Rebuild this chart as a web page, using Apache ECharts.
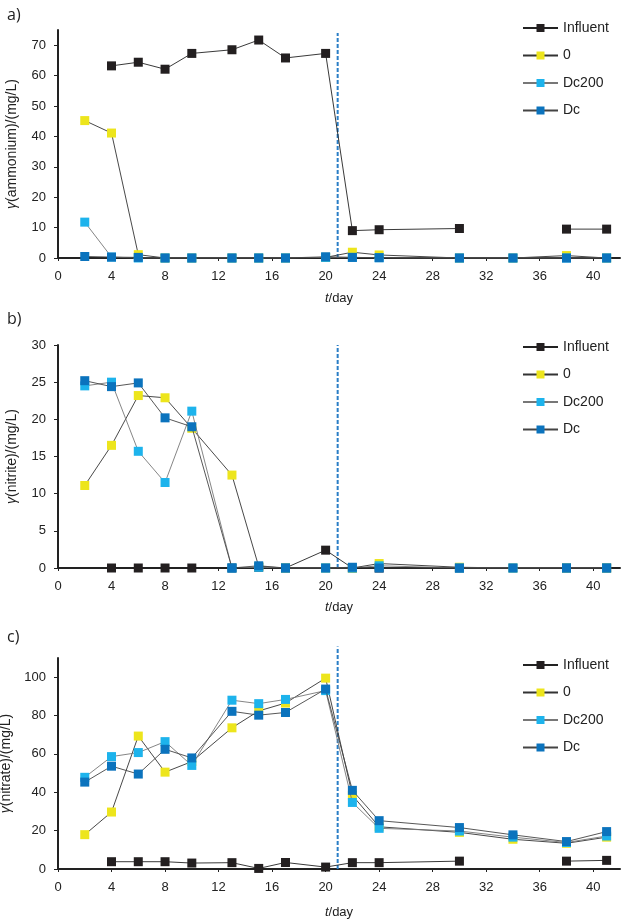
<!DOCTYPE html>
<html>
<head>
<meta charset="utf-8">
<script src="https://cdn.jsdelivr.net/npm/echarts@6/dist/echarts.min.js"></script>
<style>html,body{margin:0;padding:0;background:#fff}#c{width:624px;height:922px}</style>
</head>
<body>
<div id="c"></div>
<script>
var days = [2,4,6,8,10,13,15,17,20,22,24,30,34,38,41];
var seriesNames = ['Influent','0','Dc200','Dc'];
var switchDay = 20.9;

var influentA = [null,63.2,64.4,62.1,67.3,68.5,71.7,65.8,67.3,9.0,9.3,9.7,null,9.5,9.5];
var zeroA     = [45.2,41.1,1.1,0,0,0,0,0,0.2,1.9,1.0,0,0,0.8,0];
var dc200A    = [11.8,0.3,0,0,0,0,0,0,0.2,0.2,0.1,0,0,0,0];
var dcA       = [0.5,0.3,0.2,0,0,0,0,0,0.4,0.2,0.1,0,0,0,0];

var influentB = [null,0,0,0,0,0,0.1,0,2.4,0,0,0,null,0,0];
var zeroB     = [11.1,16.5,23.2,22.9,18.8,12.5,0.2,0,0,0,0.6,0.1,0,0,0];
var dc200B    = [24.5,25.0,15.7,11.5,21.1,0,0.1,0,0,0,0.3,0,0,0,0];
var dcB       = [25.2,24.4,24.9,20.2,19.0,0,0.3,0,0,0.1,0,0,0,0,0];

var influentC = [null,3.8,3.8,3.8,3.1,3.3,0.3,3.4,1.0,3.3,3.3,4.1,null,4.1,4.5];
var zeroC     = [17.9,29.7,69.3,50.5,56,73.6,82.4,86.5,99.5,38.4,22,19.1,15.5,13.4,16.6];
var dc200C    = [47.8,58.6,60.7,66.4,54,88,86.2,88.4,93,34.7,21.2,19.8,16.6,13.8,17.2];
var dcC       = [45.3,53.6,49.5,62.4,57.9,82.2,80.2,81.6,93.8,41,25.2,21.6,17.8,14.3,19.5];

var panels = [
  {label:'a)', yName:'(ammonium)/(mg/L)', max:75, interval:10, dashTop:74, data:[influentA,zeroA,dc200A,dcA], top:30, height:228, legendTop:21, titleTop:5, nameGap:34},
  {label:'b)', yName:'(nitrite)/(mg/L)', max:30, interval:5, dashTop:30, data:[influentB,zeroB,dc200B,dcB], top:345, height:223, legendTop:340, titleTop:309, nameGap:33},
  {label:'c)', yName:'(nitrate)/(mg/L)', max:110, interval:20, dashTop:116, data:[influentC,zeroC,dc200C,dcC], top:658, height:211, legendTop:658, titleTop:627, nameGap:37}
];

var markerColors = ['#231f20','#ede51c','#1db3ec','#0b73bd'];
var lineColors = ['#222','#333','#777','#444'];
var font = 'Liberation Sans, Arial, sans-serif';

var grids=[], xAxes=[], yAxes=[], series=[], legends=[], titles=[];
panels.forEach(function(p, gi){
  grids.push({left:58, right:4, top:p.top, height:p.height, containLabel:false, outerBoundsMode:'none'});
  titles.push({text:p.label, left:5, top:p.titleTop, padding:[2,2,2,2], textStyle:{fontSize:16, fontWeight:'normal', color:'#222', fontFamily:'Open Sans, sans-serif'}});
  xAxes.push({
    type:'value', gridIndex:gi, min:0, max:42, interval:4,
    name:'{i|t}/day', nameLocation:'middle', nameGap:p.nameGap,
    nameTextStyle:{fontSize:13, color:'#222', fontFamily:font, rich:{i:{fontStyle:'italic', fontSize:13, color:'#222', fontFamily:font}}},
    axisLine:{show:true, onZero:false, lineStyle:{color:'#222', width:2}},
    axisTick:{show:true, length:3, lineStyle:{color:'#222', width:1}},
    axisLabel:{fontSize:13, color:'#222', fontFamily:font, margin:12, showMaxLabel:false},
    splitLine:{show:false}
  });
  yAxes.push({
    type:'value', gridIndex:gi, min:0, max:p.max, interval:p.interval,
    name:'{i|γ}'+p.yName, nameLocation:'middle', nameGap:39,
    nameTextStyle:{fontSize:14, color:'#222', fontFamily:font, rich:{i:{fontStyle:'italic', fontSize:14, color:'#222', fontFamily:font}}},
    axisLine:{show:true, lineStyle:{color:'#222', width:2}},
    axisTick:{show:true, length:4, lineStyle:{color:'#222', width:1}},
    axisLabel:{fontSize:13, color:'#222', fontFamily:font, margin:12, showMaxLabel: (p.max % p.interval === 0)},
    splitLine:{show:false}
  });
  legends.push({
    data:seriesNames.slice(), orient:'vertical', left:522, top:p.legendTop, padding:0,
    itemWidth:35, itemHeight:10, itemGap:13.5, selectedMode:false,
    textStyle:{fontSize:14, color:'#222', fontFamily:font}
  });
  series.push({
    type:'line', xAxisIndex:gi, yAxisIndex:gi, silent:true, clip:false,
    data:[[switchDay,0],[switchDay,p.dashTop]], symbol:'none', z:1,
    lineStyle:{color:'#2a7ec6', width:2, type:[4,2]}, animation:false
  });
  p.data.forEach(function(arr, si){
    series.push({
      name:seriesNames[si], type:'line', xAxisIndex:gi, yAxisIndex:gi,
      data:arr.map(function(v,i){ return [days[i], v===null?'-':v]; }),
      symbol:'rect', symbolSize:9, connectNulls:false, z:2+si,
      itemStyle:{color:markerColors[si]},
      lineStyle:{color:lineColors[si], width:0.9},
      animation:false
    });
  });
});

var chart = echarts.init(document.getElementById('c'), null, {renderer:'canvas'});
chart.setOption({
  backgroundColor:'#fff',
  animation:false,
  title:titles, grid:grids, xAxis:xAxes, yAxis:yAxes, legend:legends, series:series
});
</script>
</body>
</html>
